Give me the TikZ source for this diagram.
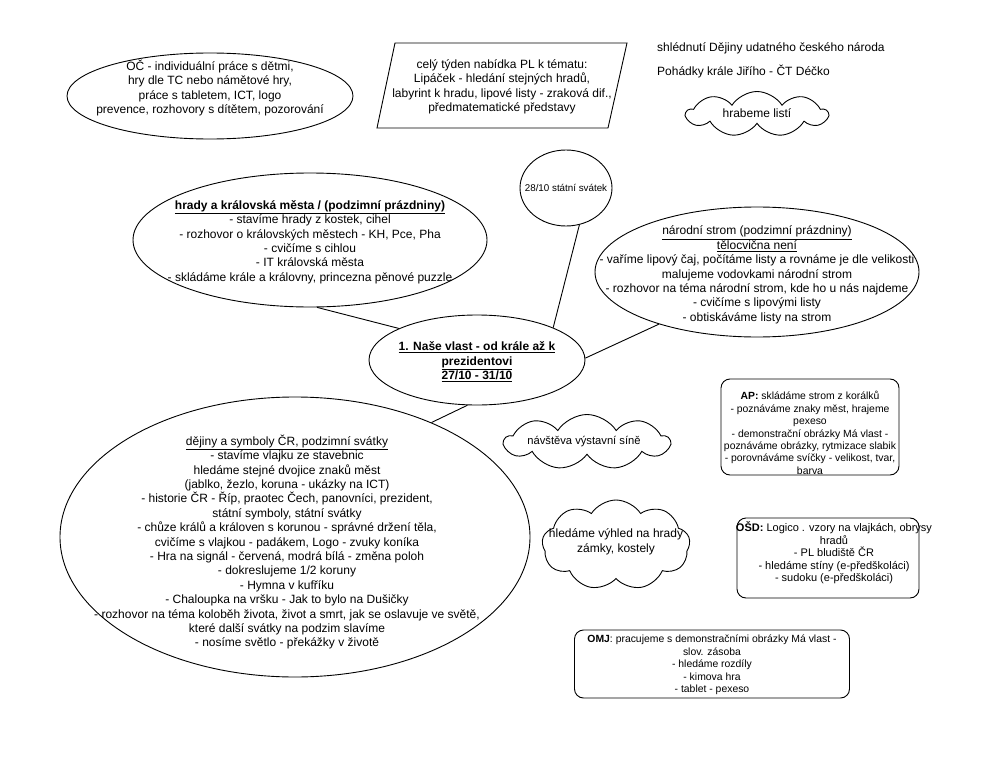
\documentclass[tikz,border=0pt]{standalone}
\usepackage{fontspec}
\setmainfont{Liberation Sans}
\usetikzlibrary{shapes.geometric,shapes.symbols}
\begin{document}
\begin{tikzpicture}[x=1pt,y=-1pt,
  outline/.style={draw=black, line width=0.9pt},
  oval/.style={outline, ellipse, inner sep=0pt},
  txt/.style={align=center, inner sep=0pt, font=\fontsize{12}{14.4}\selectfont},
  smalltxt/.style={align=center, inner sep=0pt, font=\fontsize{10.4}{12.4}\selectfont},
  puff/.style={outline, cloud, cloud puffs=9, cloud puff arc=115, inner sep=0pt},
  rbox/.style={outline, rounded corners=9pt, inner sep=0pt},
  link/.style={draw=black, line width=0.9pt}]
\useasboundingbox[fill=white] (0,0) rectangle (994,768);

% OC ellipse
\node[oval, minimum width=286pt, minimum height=86pt] (oc) at (210,96) {};
\node[txt] (octxt) at (210,88) {OČ - individuální práce s dětmi,\\ hry dle TC nebo námětové hry,\\ práce s tabletem, ICT, logo\\ prevence, rozhovory s dítětem, pozorování};

% parallelogram
\draw[outline] (395,43) -- (627,43) -- (608,128) -- (377,128) -- cycle;
\node[txt] (pltxt) at (502,87) {celý týden nabídka PL k tématu:\\ Lipáček - hledání stejných hradů,\\ labyrint k hradu, lipové listy - zraková dif.,\\ předmatematické představy};

% top right texts
\node[txt, anchor=west] (shl) at (657,48) {shlédnutí Dějiny udatného českého národa};
\node[txt, anchor=west] (poh) at (657,72) {Pohádky krále Jiřího - ČT Déčko};
\node[puff, minimum width=141pt, minimum height=45pt] (hrab) at (757,114) {};
\node[txt] (hrabtxt) at (757,113) {hrabeme listí};

% 28/10
\node[oval, minimum width=92pt, minimum height=76pt] (svatek) at (566,188) {};
\node[txt, font=\fontsize{9.8}{12}\selectfont] (svatektxt) at (566,188) {28/10 státní svátek};

% hrady
\node[oval, minimum width=354pt, minimum height=134pt] (hrady) at (310,240) {};
\node[txt] (hradytxt) at (310,242) {\textbf{\underline{hrady a královská města / (podzimní prázdniny)}}\\ - stavíme hrady z kostek, cihel\\ - rozhovor o královských městech - KH, Pce, Pha\\ - cvičíme s cihlou\\ - IT královská města\\ - skládáme krále a královny, princezna pěnové puzzle};

% central
\node[oval, minimum width=216pt, minimum height=90pt] (central) at (477,360) {};
\node[txt] (centraltxt) at (477,362) {\textbf{\underline{1. Naše vlast - od krále až k}}\\ \textbf{\underline{prezidentovi}}\\ \textbf{\underline{27/10 - 31/10}}};

% narodni strom
\node[oval, minimum width=324pt, minimum height=130pt] (strom) at (757,272) {};
\node[txt] (stromtxt) at (757,275) {\underline{národní strom (podzimní prázdniny)}\\ \underline{tělocvična není}\\ - vaříme lipový čaj, počítáme listy a rovnáme je dle velikosti\\ malujeme vodovkami národní strom\\ - rozhovor na téma národní strom, kde ho u nás najdeme\\ - cvičíme s lipovými listy\\ - obtiskáváme listy na strom};

% AP box
\node[rbox, minimum width=178pt, minimum height=96pt] (ap) at (810,427) {};
\node[smalltxt] (aptxt) at (810,433) {\textbf{AP:} skládáme strom z korálků\\ - poznáváme znaky měst, hrajeme\\ pexeso\\ - demonstrační obrázky Má vlast -\\ poznáváme obrázky, rytmizace slabik\\ - porovnáváme svíčky - velikost, tvar,\\ barva};

% dejiny
\node[oval, minimum width=470pt, minimum height=280pt] (dejiny) at (295,537) {};
\node[txt] (dejinytxt) at (287,542) {\underline{dějiny a symboly ČR, podzimní svátky}\\ - stavíme vlajku ze stavebnic\\ hledáme stejné dvojice znaků měst\\ (jablko, žezlo, koruna - ukázky na ICT)\\ - historie ČR - Říp, praotec Čech, panovníci, prezident,\\ státní symboly, státní svátky\\ - chůze králů a královen s korunou - správné držení těla,\\ cvičíme s vlajkou - padákem, Logo - zvuky koníka\\ - Hra na signál - červená, modrá bílá - změna poloh\\ - dokreslujeme 1/2 koruny\\ - Hymna v kufříku\\ - Chaloupka na vršku - Jak to bylo na Dušičky\\ - rozhovor na téma koloběh života, život a smrt, jak se oslavuje ve světě,\\ které další svátky na podzim slavíme\\ - nosíme světlo - překážky v životě};

% clouds
\node[puff, minimum width=165pt, minimum height=55pt] (navsteva) at (587,442) {};
\node[txt, font=\fontsize{11.2}{14}\selectfont] (navstevatxt) at (584,442) {návštěva výstavní síně};
\node[puff, minimum width=148pt, minimum height=90pt] (vyhled) at (616,545) {};
\node[txt] (vyhledtxt) at (616,542) {hledáme výhled na hrady\\ zámky, kostely};

% OSD
\node[rbox, minimum width=182pt, minimum height=80pt] (osd) at (828,558) {};
\node[smalltxt, font=\fontsize{11}{12.5}\selectfont] (osdtxt) at (834,553) {\textbf{OŠD:} Logico . vzory na vlajkách, obrysy\\ hradů\\ - PL bludiště ČR\\ - hledáme stíny (e-předškoláci)\\ - sudoku (e-předškoláci)};

% OMJ
\node[rbox, minimum width=275pt, minimum height=68pt] (omj) at (712,664) {};
\node[smalltxt] (omjtxt) at (712,665) {\textbf{OMJ}: pracujeme s demonstračními obrázky Má vlast -\\ slov. zásoba\\ - hledáme rozdíly\\ - kimova hra\\ - tablet - pexeso};

% connectors
\draw[link] (central.158.1) -- (hrady.276.7);
\draw[link] (central.23.5) -- (svatek.290.7);
\draw[link] (central.1) -- (strom.208);
\draw[link] (central.258.7) -- (dejiny.40.4);
\end{tikzpicture}
\end{document}
